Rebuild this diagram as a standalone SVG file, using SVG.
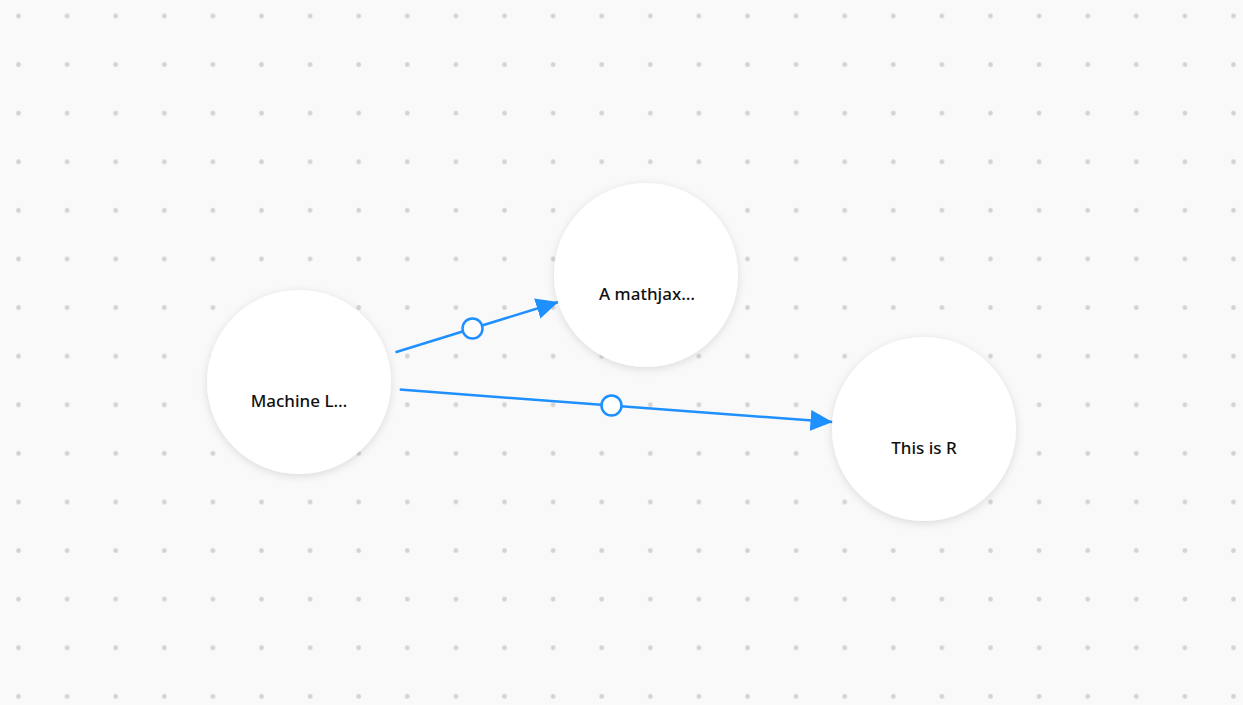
<svg xmlns="http://www.w3.org/2000/svg" width="1243" height="705" viewBox="0 0 1243 705">
  <defs>
    <pattern id="dots" patternUnits="userSpaceOnUse" x="-5.8" y="-8.3" width="48.6" height="48.6">
      <circle cx="24.3" cy="24.3" r="2.4" fill="#d3d3d3"/>
    </pattern>
    <filter id="shadow" x="-30%" y="-30%" width="160%" height="160%">
      <feDropShadow dx="0" dy="2" stdDeviation="4" flood-color="#000" flood-opacity="0.12"/>
    </filter>
    <marker id="arrow" markerUnits="userSpaceOnUse" markerWidth="24" markerHeight="22" refX="22" refY="10.5" orient="auto" viewBox="0 0 24 22">
      <path d="M0,0 L22,10.5 L0,21 Z" fill="#1e90ff"/>
    </marker>
    <style>
      .node { fill: #ffffff; filter: url(#shadow); }
      .label { font-family: "Noto Sans", "Open Sans", "DejaVu Sans", sans-serif; font-size: 17px; font-weight: 500; fill: #111111; text-anchor: middle; }
      .edge { stroke: #1e90ff; stroke-width: 2.5; fill: none; marker-end: url(#arrow); }
      .mid { fill: #ffffff; stroke: #1e90ff; stroke-width: 2.5; }
    </style>
  </defs>
  <rect x="0" y="0" width="1243" height="705" fill="#f9f9f9"/>
  <rect x="0" y="0" width="1243" height="705" fill="url(#dots)"/>

  <g id="connectors">
    <line class="edge" x1="395.5" y1="352.2" x2="558.3" y2="302"/>
    <circle class="mid" cx="472.5" cy="328.5" r="10"/>
    <line class="edge" x1="399.7" y1="389.6" x2="832.5" y2="422.1"/>
    <circle class="mid" cx="611.5" cy="405.5" r="10"/>
  </g>

  <g id="node-machine">
    <circle class="node" cx="299" cy="382" r="92"/>
    <text class="label" x="299" y="407">Machine L…</text>
  </g>
  <g id="node-mathjax">
    <circle class="node" cx="646" cy="275" r="92"/>
    <text class="label" x="647" y="300">A mathjax…</text>
  </g>
  <g id="node-r">
    <circle class="node" cx="924" cy="429" r="92"/>
    <text class="label" x="924" y="454">This is R</text>
  </g>
</svg>
